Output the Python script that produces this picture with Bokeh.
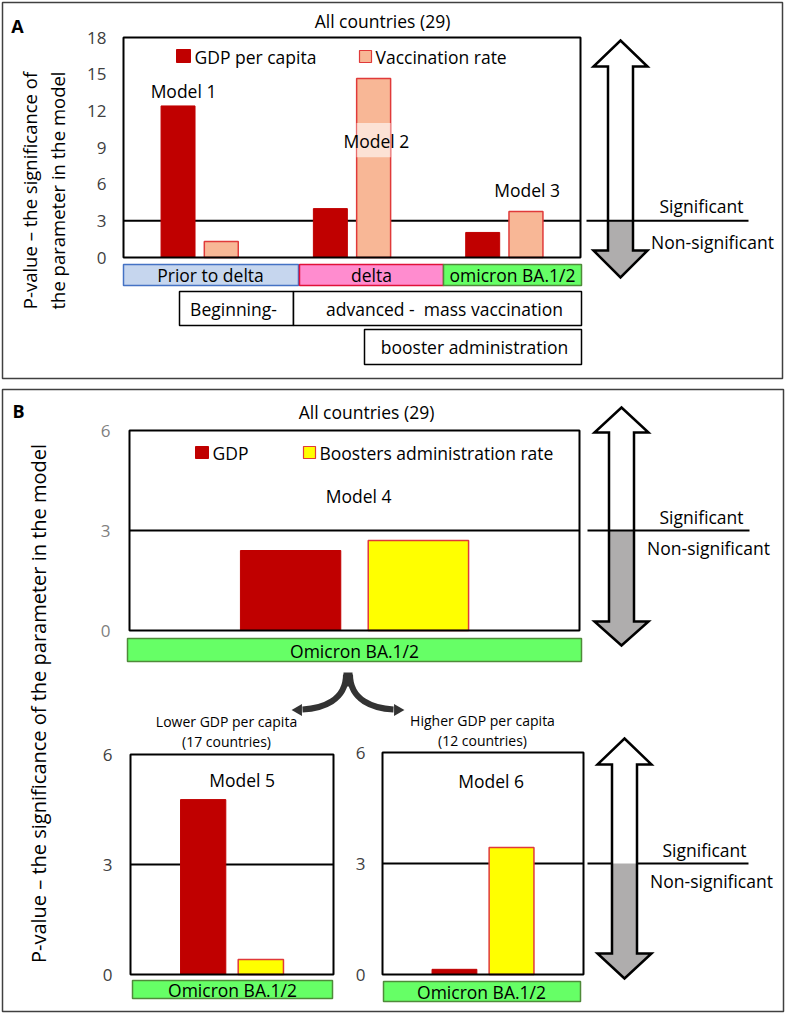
import numpy as np
from bokeh.plotting import figure
from bokeh.models import Range1d
from bokeh.embed import file_html
from bokeh.resources import INLINE
from bokeh.core.properties import value

# ---------------- data ----------------
periods_A = ["Prior to delta", "delta", "omicron BA.1/2"]
models_A = ["Model 1", "Model 2", "Model 3"]
gdp_A = [12.4, 4.0, 2.05]
vacc_A = [1.3, 14.65, 3.77]
ticks_A = [0, 3, 6, 9, 12, 15, 18]
stages = ["Beginning-", "advanced -  mass vaccination", "booster administration"]

gdp_B = [2.4]
boost_B = [2.7]
ticks_B = [0, 3, 6]
gdp_low = [4.77]
boost_low = [0.41]
gdp_high = [0.14]
boost_high = [3.43]
threshold = 3

# ---------------- styles ----------------
FONT = value("Open Sans")
RED = "#c00000"
PEACH = "#f8b796"
EDGE = "#e03a3a"
YELLOW = "#ffff00"
GREEN = "#66ff66"
GREEN_EDGE = "#4f8a3a"
PINK = "#ff8ccf"
BLUE = "#c6d6ee"
GREY = "#afadad"

W, H = 786, 1013
X0, X1 = 0, W
Y0, Y1 = 0, H

p = figure(width=W, height=H, x_range=Range1d(X0, X1), y_range=Range1d(Y1, Y0),
           x_axis_type=None, y_axis_type=None, toolbar_location=None,
           output_backend="svg", min_border=0, outline_line_color=None)
p.min_border_left = p.min_border_right = p.min_border_top = p.min_border_bottom = 0
p.background_fill_color = "white"
p.border_fill_color = "white"


def add_ranges(name, px0, px1, v0, v1, py0, py1, w0, w1):
    sx = (v1 - v0) / (px1 - px0)
    sy = (w1 - w0) / (py1 - py0)
    xr = dict(p.extra_x_ranges)
    yr = dict(p.extra_y_ranges)
    xr[name] = Range1d(v0 + (X0 - px0) * sx, v0 + (X1 - px0) * sx)
    yr[name] = Range1d(w0 + (Y1 - py0) * sy, w0 + (Y0 - py0) * sy)
    p.extra_x_ranges = xr
    p.extra_y_ranges = yr


def txt(x, y, s, size="17.5px", align="center", color="black", angle=0.0,
        style="normal", xr="default", yr="default", x_offset=0):
    p.text(x=[x], y=[y], text=[s], text_font=FONT, text_font_size=size,
           text_align=align, text_baseline="middle", text_color=color,
           angle=angle, text_font_style=style, x_range_name=xr, y_range_name=yr,
           x_offset=x_offset)


def chart(name, px0, px1, py0, py1, vmax, s1, s2, c2, ticks, tick_color, tick_off, line_ext):
    n = len(s1)
    add_ranges(name, px0, px1, 0, n, py0, py1, 0, vmax)
    centers = np.arange(n) + 0.5
    # threshold line (behind bars)
    p.segment(x0=[0], x1=[n], y0=[threshold], y1=[threshold], line_color="black",
              line_width=2, x_range_name=name, y_range_name=name)
    p.segment(x0=[line_ext[0]], x1=[line_ext[1]], y0=[threshold], y1=[threshold],
              line_color="black", line_width=2, y_range_name=name)
    p.vbar(x=centers - 0.142, width=0.223, top=s1, bottom=0, fill_color=RED,
           line_color=RED, line_width=1, x_range_name=name, y_range_name=name)
    p.vbar(x=centers + 0.142, width=0.223, top=s2, bottom=0, fill_color=c2,
           line_color=EDGE, line_width=1.5, x_range_name=name, y_range_name=name)
    p.quad(left=[0], right=[n], bottom=[0], top=[vmax], fill_color=None,
           line_color="black", line_width=2, x_range_name=name, y_range_name=name)
    p.text(x=[0] * len(ticks), y=ticks, text=[str(t) for t in ticks], x_offset=tick_off,
           text_align="right", text_baseline="middle", text_font=FONT,
           text_font_size="17px", text_color=tick_color,
           x_range_name=name, y_range_name=name)


def block_arrow(cx, top, head_top, head_bot, bottom, yline, hh=27, hs=12.5):
    xs = [cx, cx + hh, cx + hs, cx + hs, cx + hh, cx, cx - hh, cx - hs, cx - hs, cx - hh]
    ys = [top, head_top, head_top, head_bot, head_bot, bottom, head_bot, head_bot, head_top, head_top]
    p.patch(xs, ys, fill_color="white", line_color=None)
    gx = [cx - hs, cx + hs, cx + hs, cx + hh, cx, cx - hh, cx - hs]
    gy = [yline, yline, head_bot, head_bot, bottom, head_bot, head_bot]
    p.patch(gx, gy, fill_color=GREY, line_color=None)
    p.patch(xs, ys, fill_color=None, line_color="black", line_width=2.5, line_join="miter")


def sig_labels(xc_sig, y_sig, xc_non, y_non):
    txt(xc_sig, y_sig, "Significant")
    txt(xc_non, y_non, "Non-significant")


# ---------------- panel borders ----------------
p.quad(left=[2], right=[782], top=[2], bottom=[378], fill_color=None,
       line_color="#404040", line_width=1.5)
p.quad(left=[2], right=[783], top=[389], bottom=[1011], fill_color=None,
       line_color="#404040", line_width=1.5)
txt(17, 25, "A", size="18px", style="bold")
txt(18, 410, "B", size="18px", style="bold")

# ---------------- panel A ----------------
txt(382, 20, "All countries (29)")
block_arrow(620, 40, 66, 250, 277, 220)
chart("A", 123, 580, 257, 37, 18, gdp_A, vacc_A, PEACH, ticks_A, "#404040", -17, (586, 748))
# legend A
p.quad(left=[176], right=[190], top=[49], bottom=[62], fill_color=RED, line_color=RED)
txt(194, 56, "GDP per capita", align="left")
p.quad(left=[359], right=[371], top=[50], bottom=[62], fill_color=PEACH, line_color=EDGE, line_width=1.2)
txt(375, 56, "Vaccination rate", align="left")
# model labels
p.quad(left=[1.5 + 0.142 - 0.112], right=[1.5 + 0.142 + 0.112], bottom=[8.2], top=[11.0],
       fill_color="white", fill_alpha=0.6, line_color=None, x_range_name="A", y_range_name="A")
txt(0.394, 13.6, models_A[0], xr="A", yr="A")
txt(1.66, 9.5, models_A[1], xr="A", yr="A")
txt(2.65, 5.5, models_A[2], xr="A", yr="A")
sig_labels(701, 205, 712, 241)
# y title A
txt(29, 190, "P-value \u2013 the significance of", size="18.5px", angle=np.pi / 2)
txt(57, 190, "the parameter in the model", size="18.5px", angle=np.pi / 2)
# phase bars
p.quad(left=[123], right=[298], top=[264], bottom=[285], fill_color=BLUE, line_color="#4472c4", line_width=1.5)
p.quad(left=[299], right=[443], top=[264], bottom=[285], fill_color=PINK, line_color="#e0103a", line_width=1.5)
p.quad(left=[443], right=[581], top=[264], bottom=[285], fill_color=GREEN, line_color=GREEN_EDGE, line_width=1.5)
txt(210, 274, periods_A[0])
txt(371, 274, periods_A[1])
txt(512, 274, periods_A[2])
p.quad(left=[179, 293], right=[293, 581], top=[291, 291], bottom=[325, 325], fill_color="white",
       line_color="black", line_width=1.5)
p.quad(left=[364], right=[581], top=[329], bottom=[364], fill_color="white",
       line_color="black", line_width=1.5)
txt(233, 308, stages[0])
txt(444, 308, stages[1].replace("  ", " \u00a0"))
txt(474, 346, stages[2])

# ---------------- panel B top ----------------
txt(366, 411, "All countries (29)")
block_arrow(621, 407, 432, 621, 645, 530)
chart("B", 129, 579, 630, 430, 6, gdp_B, boost_B, YELLOW, ticks_B, "#7f7f7f", -19, (587, 749))
p.quad(left=[195], right=[208], top=[446], bottom=[458], fill_color=RED, line_color=RED)
txt(212, 452, "GDP", align="left")
p.quad(left=[303], right=[315], top=[446], bottom=[458], fill_color=YELLOW, line_color=EDGE, line_width=1.2)
txt(319, 452, "Boosters administration rate", align="left")
txt(0.509, 4.05, "Model 4", xr="B", yr="B")
sig_labels(701, 516, 708, 547)
p.quad(left=[127], right=[581], top=[638], bottom=[661], fill_color=GREEN, line_color=GREEN_EDGE, line_width=1.5)
txt(354, 650, "Omicron BA.1/2")

# split arrow
p.quad(left=[343], right=[352], top=[672], bottom=[686], fill_color="#333333", line_color=None)
p.bezier(x0=[345.5], y0=[674], cx0=[345.5], cy0=[700], cx1=[322], cy1=[708], x1=[302], y1=[709],
         line_color="#333333", line_width=6)
p.bezier(x0=[349.5], y0=[674], cx0=[349.5], cy0=[700], cx1=[373], cy1=[708], x1=[393], y1=[709],
         line_color="#333333", line_width=6)
p.scatter(x=[298], y=[709.5], marker="triangle", size=12, angle=np.pi / 2,
          fill_color="#333333", line_color=None)
p.scatter(x=[397], y=[709.5], marker="triangle", size=12, angle=-np.pi / 2,
          fill_color="#333333", line_color=None)

txt(226, 721, "Lower GDP per capita", size="14px")
txt(226, 741, "(17 countries)", size="14px")
txt(482, 720, "Higher GDP per capita", size="14px")
txt(482, 740, "(12 countries)", size="14px")

# ---------------- panel B bottom ----------------
chart("L", 130, 333, 974, 754, 6, gdp_low, boost_low, YELLOW, ticks_B, "#404040", -18, (333, 333))
chart("H", 382, 583, 974, 752, 6, gdp_high, boost_high, YELLOW, ticks_B, "#404040", -17, (587, 748))
txt(0.55, 5.3, "Model 5", xr="L", yr="L")
txt(0.54, 5.24, "Model 6", xr="H", yr="H")
p.quad(left=[132, 383], right=[332, 580], top=[980, 981], bottom=[998, 1001],
       fill_color=GREEN, line_color=GREEN_EDGE, line_width=1.5)
txt(232, 989, "Omicron BA.1/2")
txt(481, 991, "Omicron BA.1/2")
block_arrow(624, 738, 764, 953, 978, 863)
sig_labels(704, 849, 711, 880)

txt(38, 703, "P-value \u2013 the significance of the parameter in the model", size="20px", angle=np.pi / 2)

open("out.html", "w").write(file_html(p, INLINE))
